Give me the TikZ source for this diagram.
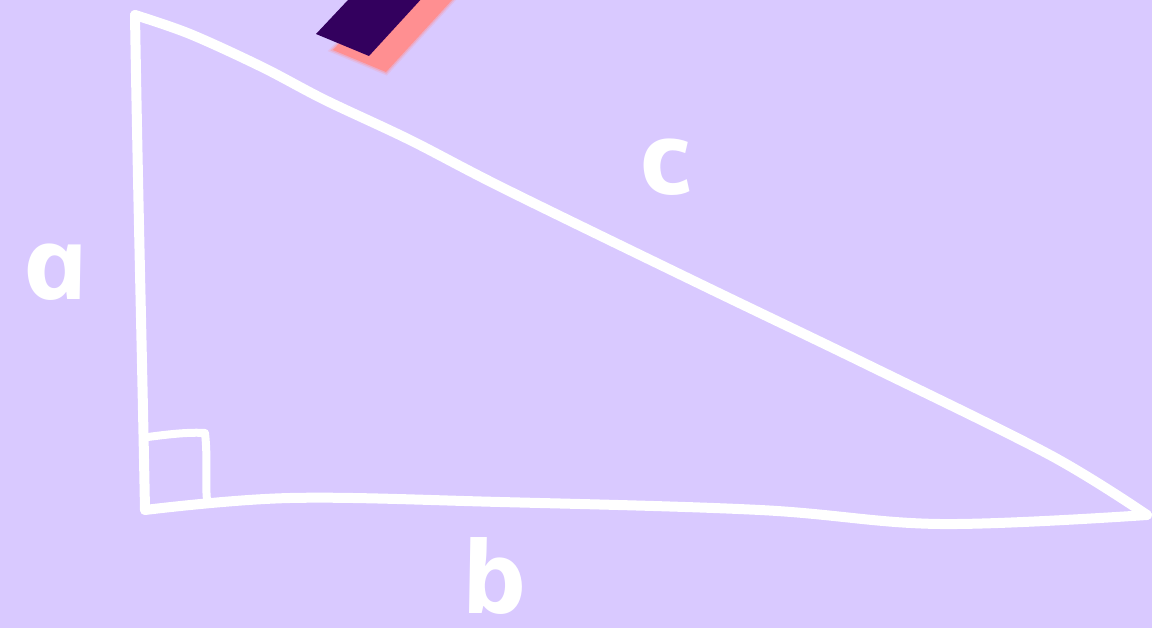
\documentclass[tikz,border=0pt]{standalone}
\usepackage{fontspec}
\setmainfont{Open Sans}
\definecolor{qlav}{RGB}{217,201,255}
\definecolor{qdark}{RGB}{51,0,94}
\definecolor{qpink}{RGB}{255,143,145}

\begin{document}
\begin{tikzpicture}[x=1pt,y=-1pt,
  chalk/.style={draw=white, line width=10pt, line cap=round, line join=round},
  lbl/.style={text=white, font=\fontsize{100}{100}\selectfont\bfseries\itshape, inner sep=0pt, anchor=base, transform shape, xslant=-0.22, xscale=1.12}]
\def\W{1152}%picture width
\def\H{628}%picture height
\def\dx{17}%shadow offset x
\def\dy{16}%shadow offset y

\fill[qlav] (0,0) rectangle (\W,\H);
\useasboundingbox (0,0) rectangle (\W,\H);

% marker tip with its shadow
\begin{scope}
 \clip (0,0) rectangle (\W,\H);
 \foreach \w/\o in {6/0.2,3/0.4}{
   \draw[qpink, line width=\w pt, opacity=\o, shift={(\dx,\dy)}] (316,34) -- (369,56) -- (446,-28) -- (380,-34) -- cycle;
 }
 \fill[qpink, shift={(\dx,\dy)}] (316,34) -- (369,56) -- (446,-28) -- (380,-34) -- cycle;
 \fill[qdark] (316,34) -- (369,56) -- (446,-28) -- (380,-34) -- cycle;
\end{scope}

% triangle sides
\draw[chalk] (135,15) .. controls (138,200) and (142,350) .. (145,510);
\draw[chalk] plot[smooth, tension=0.6] coordinates {(145,510) (290,498) (500,502) (760,510) (940,524) (1147,515)};
\draw[chalk] plot[smooth, tension=0.55] coordinates {(135,15) (190,34) (262,67) (325,100) (410,140) (505,189) (700,284) (866,364) (1050,455) (1147,515)};

% right angle mark
\draw[chalk, line width=8pt] (148,437) .. controls (170,434) and (190,432) .. (205,433) .. controls (208,460) and (205,480) .. (207,500);

% side labels
\node[lbl] (la) at (62,300) {a};
\node[lbl] (lb) at (501,613) {b};
\node[lbl] (lc) at (672,195) {c};
\end{tikzpicture}
\end{document}
